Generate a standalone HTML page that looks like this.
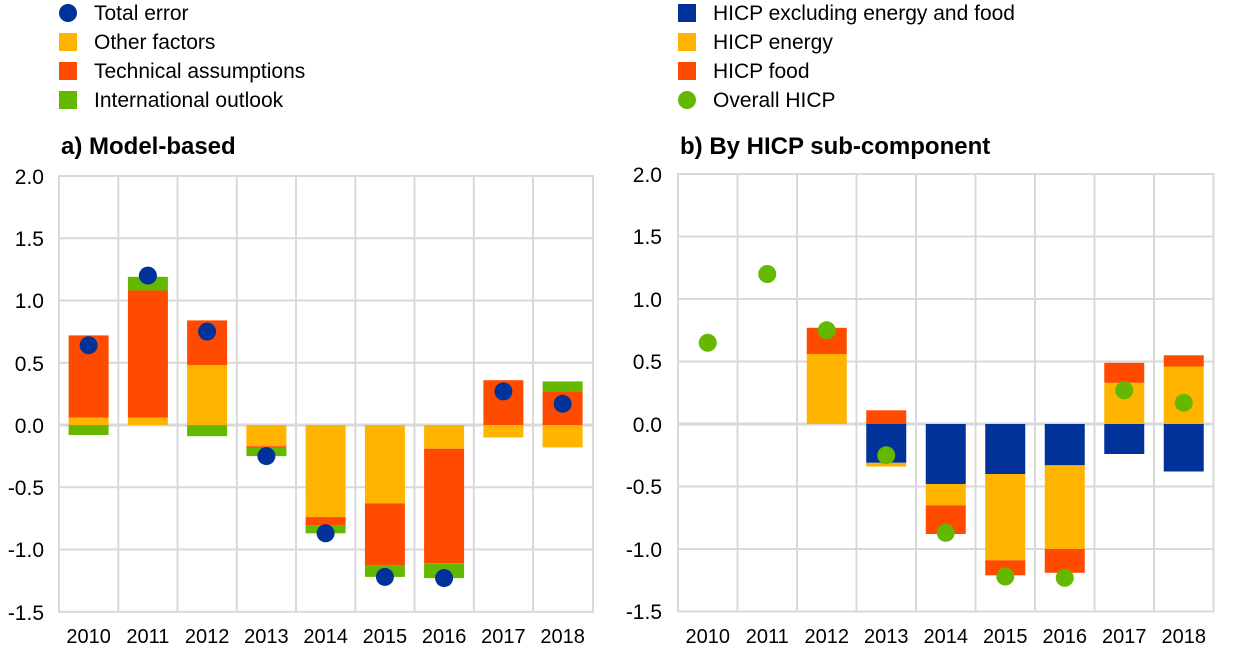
<!DOCTYPE html>
<html><head><meta charset="utf-8"><style>
html,body{margin:0;padding:0;background:#fff;}
svg{display:block;font-family:"Liberation Sans",Arial,sans-serif;}
</style></head><body>
<svg width="1240" height="658" viewBox="0 0 1240 658">
<g font-size="21" fill="#000">
<circle cx="68" cy="13" r="9" fill="#003299"/><text x="94" y="20">Total error</text>
<rect x="59" y="33" width="18" height="18" fill="#FFB400"/><text x="94" y="49">Other factors</text>
<rect x="59" y="62" width="18" height="18" fill="#FF4B00"/><text x="94" y="78">Technical assumptions</text>
<rect x="59" y="91" width="18" height="18" fill="#65B800"/><text x="94" y="107">International outlook</text>
<rect x="678" y="4" width="18" height="18" fill="#003299"/><text x="713" y="20">HICP excluding energy and food</text>
<rect x="678" y="33" width="18" height="18" fill="#FFB400"/><text x="713" y="49">HICP energy</text>
<rect x="678" y="62" width="18" height="18" fill="#FF4B00"/><text x="713" y="78">HICP food</text>
<circle cx="687" cy="100" r="9" fill="#65B800"/><text x="713" y="107">Overall HICP</text>
</g>
<g font-size="24" font-weight="bold"><text x="61" y="154">a) Model-based</text><text x="680" y="154">b) By HICP sub-component</text></g>

<g stroke="#d9d9d9" stroke-width="2" fill="none">
<rect x="59" y="176" width="534" height="435.8"/>
<path d="M59 238.3H593M59 300.5H593M59 362.8H593M59 487.3H593M59 549.5H593"/>
<path d="M118.3 176V611.8M177.5 176V611.8M236.8 176V611.8M296 176V611.8M355.3 176V611.8M414.5 176V611.8M473.8 176V611.8M533 176V611.8"/>
<path d="M59 425H593" stroke-width="3"/>
</g>
<g font-size="21" text-anchor="end">
<text x="44" y="184">2.0</text><text x="44" y="246">1.5</text><text x="44" y="308">1.0</text><text x="44" y="371">0.5</text><text x="44" y="433">0.0</text><text x="44" y="495">-0.5</text><text x="44" y="557">-1.0</text><text x="44" y="620">-1.5</text>
</g>
<g font-size="20" text-anchor="middle">
<text x="88.6" y="643">2010</text><text x="147.9" y="643">2011</text><text x="207.1" y="643">2012</text><text x="266.4" y="643">2013</text><text x="325.6" y="643">2014</text><text x="384.9" y="643">2015</text><text x="444.1" y="643">2016</text><text x="503.4" y="643">2017</text><text x="562.6" y="643">2018</text>
</g>
<g>
<rect x="68.6" y="417.5" width="40" height="7.5" fill="#FFB400"/><rect x="68.6" y="335.4" width="40" height="82.1" fill="#FF4B00"/><rect x="68.6" y="425" width="40" height="10" fill="#65B800"/>
<rect x="127.9" y="417.5" width="40" height="7.5" fill="#FFB400"/><rect x="127.9" y="290.5" width="40" height="127" fill="#FF4B00"/><rect x="127.9" y="276.8" width="40" height="13.7" fill="#65B800"/>
<rect x="187.1" y="365.2" width="40" height="59.8" fill="#FFB400"/><rect x="187.1" y="320.4" width="40" height="44.8" fill="#FF4B00"/><rect x="187.1" y="425" width="40" height="11.2" fill="#65B800"/>
<rect x="246.4" y="425" width="40" height="21.2" fill="#FFB400"/><rect x="246.4" y="446.2" width="40" height="1.5" fill="#FF4B00"/><rect x="246.4" y="447.4" width="40" height="8.7" fill="#65B800"/>
<rect x="305.6" y="425" width="40" height="92.1" fill="#FFB400"/><rect x="305.6" y="517.1" width="40" height="8.7" fill="#FF4B00"/><rect x="305.6" y="525.8" width="40" height="7.5" fill="#65B800"/>
<rect x="364.9" y="425" width="40" height="78.4" fill="#FFB400"/><rect x="364.9" y="503.4" width="40" height="62.3" fill="#FF4B00"/><rect x="364.9" y="565.7" width="40" height="11.2" fill="#65B800"/>
<rect x="424.1" y="425" width="40" height="23.7" fill="#FFB400"/><rect x="424.1" y="448.7" width="40" height="114.5" fill="#FF4B00"/><rect x="424.1" y="563.2" width="40" height="14.9" fill="#65B800"/>
<rect x="483.4" y="380.2" width="40" height="44.8" fill="#FF4B00"/><rect x="483.4" y="425" width="40" height="12.5" fill="#FFB400"/>
<rect x="542.6" y="391.4" width="40" height="33.6" fill="#FF4B00"/><rect x="542.6" y="381.4" width="40" height="10" fill="#65B800"/><rect x="542.6" y="425" width="40" height="22.4" fill="#FFB400"/>
</g>
<g fill="#003299">
<circle cx="88.6" cy="345.3" r="9"/><circle cx="147.9" cy="275.6" r="9"/><circle cx="207.1" cy="331.6" r="9"/><circle cx="266.4" cy="456.1" r="9"/><circle cx="325.6" cy="533.3" r="9"/><circle cx="384.9" cy="576.9" r="9"/><circle cx="444.1" cy="578.1" r="9"/><circle cx="503.4" cy="391.4" r="9"/><circle cx="562.6" cy="403.8" r="9"/>
</g>

<g stroke="#d9d9d9" stroke-width="2" fill="none">
<rect x="678" y="174" width="535.5" height="437.5"/>
<path d="M678 236.5H1213.5M678 299H1213.5M678 361.5H1213.5M678 486.5H1213.5M678 549H1213.5"/>
<path d="M737.5 174V611.5M797 174V611.5M856.5 174V611.5M916 174V611.5M975.5 174V611.5M1035 174V611.5M1094.5 174V611.5M1154 174V611.5"/>
<path d="M678 424H1213.5" stroke-width="3"/>
</g>
<g font-size="21" text-anchor="end">
<text x="662" y="182">2.0</text><text x="662" y="244">1.5</text><text x="662" y="307">1.0</text><text x="662" y="369">0.5</text><text x="662" y="432">0.0</text><text x="662" y="494">-0.5</text><text x="662" y="557">-1.0</text><text x="662" y="619">-1.5</text>
</g>
<g font-size="20" text-anchor="middle">
<text x="707.75" y="643">2010</text><text x="767.25" y="643">2011</text><text x="826.75" y="643">2012</text><text x="886.25" y="643">2013</text><text x="945.75" y="643">2014</text><text x="1005.25" y="643">2015</text><text x="1064.75" y="643">2016</text><text x="1124.25" y="643">2017</text><text x="1183.75" y="643">2018</text>
</g>
<g>
<rect x="806.75" y="354" width="40" height="70" fill="#FFB400"/><rect x="806.75" y="327.8" width="40" height="26.2" fill="#FF4B00"/>
<rect x="866.25" y="410.3" width="40" height="13.7" fill="#FF4B00"/><rect x="866.25" y="424" width="40" height="38.8" fill="#003299"/><rect x="866.25" y="462.8" width="40" height="3.7" fill="#FFB400"/>
<rect x="925.75" y="424" width="40" height="60" fill="#003299"/><rect x="925.75" y="484" width="40" height="21.3" fill="#FFB400"/><rect x="925.75" y="505.3" width="40" height="28.7" fill="#FF4B00"/>
<rect x="985.25" y="424" width="40" height="50" fill="#003299"/><rect x="985.25" y="474" width="40" height="86.3" fill="#FFB400"/><rect x="985.25" y="560.3" width="40" height="15" fill="#FF4B00"/>
<rect x="1044.75" y="424" width="40" height="41.3" fill="#003299"/><rect x="1044.75" y="465.3" width="40" height="83.7" fill="#FFB400"/><rect x="1044.75" y="549" width="40" height="23.8" fill="#FF4B00"/>
<rect x="1104.25" y="382.8" width="40" height="41.2" fill="#FFB400"/><rect x="1104.25" y="362.8" width="40" height="20" fill="#FF4B00"/><rect x="1104.25" y="424" width="40" height="30" fill="#003299"/>
<rect x="1163.75" y="366.5" width="40" height="57.5" fill="#FFB400"/><rect x="1163.75" y="355.3" width="40" height="11.2" fill="#FF4B00"/><rect x="1163.75" y="424" width="40" height="47.5" fill="#003299"/>
</g>
<g fill="#65B800">
<circle cx="707.75" cy="342.8" r="9"/><circle cx="767.25" cy="274" r="9"/><circle cx="826.75" cy="330.3" r="9"/><circle cx="886.25" cy="455.3" r="9"/><circle cx="945.75" cy="532.8" r="9"/><circle cx="1005.25" cy="576.5" r="9"/><circle cx="1064.75" cy="577.8" r="9"/><circle cx="1124.25" cy="390.3" r="9"/><circle cx="1183.75" cy="402.8" r="9"/>
</g>
</svg>
</body></html>
